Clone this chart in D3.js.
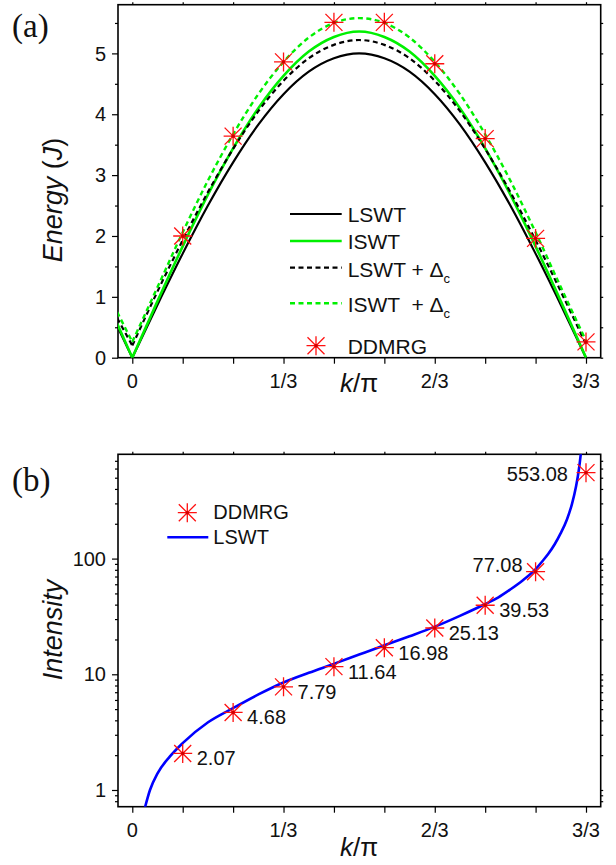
<!DOCTYPE html>
<html><head><meta charset="utf-8">
<script src="https://cdn.jsdelivr.net/npm/d3@7"></script>
<style>
html,body{margin:0;padding:0;background:#fff;}
svg{display:block;font-family:"Liberation Sans",Arial,sans-serif;}
</style></head>
<body>
<svg id="c" width="616" height="865"></svg>
<script>
// ---------- data ----------
const kEnergy = [-0.0333, 0, 0.0556, 0.1111, 0.1667, 0.2222, 0.2778, 0.3333, 0.3889, 0.4444, 0.5,
                 0.5556, 0.6111, 0.6667, 0.7222, 0.7778, 0.8333, 0.8889, 0.9444, 1.0];
const lswtE  = [0.52, 0, 0.87, 1.71, 2.50, 3.21, 3.83, 4.33, 4.70, 4.92, 5.00, 4.92, 4.70, 4.33, 3.83, 3.21, 2.50, 1.71, 0.87, 0];
const iswtE  = [0.56, 0, 0.93, 1.83, 2.68, 3.44, 4.10, 4.63, 5.03, 5.27, 5.36, 5.27, 5.03, 4.63, 4.10, 3.44, 2.68, 1.83, 0.93, 0];
const lswtDE = [0.65, 0.20, 1.09, 1.93, 2.72, 3.43, 4.05, 4.55, 4.92, 5.14, 5.22, 5.14, 4.92, 4.55, 4.05, 3.43, 2.72, 1.93, 1.09, 0.22];
const iswtDE = [0.75, 0.26, 1.16, 2.06, 2.91, 3.67, 4.33, 4.86, 5.26, 5.50, 5.58, 5.50, 5.26, 4.86, 4.33, 3.67, 2.91, 2.06, 1.16, 0.28];

const kDDMRG = [1/9, 2/9, 3/9, 4/9, 5/9, 6/9, 7/9, 8/9, 9/9];
const ddmrgE = [2.00, 3.64, 4.86, 5.51, 5.51, 4.83, 3.60, 1.96, 0.26];
const ddmrgI = [2.07, 4.68, 7.79, 11.64, 16.98, 25.13, 39.53, 77.08, 553.08];

const kInt   = [0.026, 0.039, 0.056, 0.083, 0.111, 0.167, 0.222, 0.278, 0.333, 0.389, 0.444, 0.5,
                0.556, 0.611, 0.667, 0.722, 0.778, 0.806, 0.833, 0.861, 0.889, 0.903, 0.917, 0.931,
                0.944, 0.958, 0.969, 0.978, 0.984, 0.989, 0.993];
const lswtI  = [0.66, 1.0, 1.4, 1.95, 2.54, 3.85, 5.1, 6.7, 8.5, 10.3, 12.3, 14.8,
                17.8, 21.3, 25.8, 32, 40.5, 46, 54, 65, 81, 94, 110, 133,
                165, 218, 296, 420, 577, 840, 1300];

const xTickVals = [0, 1/9, 2/9, 3/9, 4/9, 5/9, 6/9, 7/9, 8/9, 1];
const xTickLabels = {0: "0", 3: "1/3", 6: "2/3", 9: "3/3"};
const eTicks = [0, 1, 2, 3, 4, 5];
const iTicks = [1, 10, 100];

// ---------- layout ----------
const svg = d3.select("#c");
const L = 118, R = 600.7;
const A = {top: 4.7, bottom: 357.7};
const B = {top: 454.3, bottom: 806.7};

const x = d3.scaleLinear().domain([-0.0315, 1.0324]).range([L, R]);
const yA = d3.scaleLinear().domain([0, 5.8]).range([A.bottom, A.top]);
const yB = d3.scaleLog().domain([0.717, 797]).range([B.bottom, B.top]);

const defs = svg.append("defs");
defs.append("clipPath").attr("id", "clipA").append("rect")
  .attr("x", L).attr("y", A.top).attr("width", R - L).attr("height", A.bottom - A.top);
defs.append("clipPath").attr("id", "clipB").append("rect")
  .attr("x", L).attr("y", B.top).attr("width", R - L).attr("height", B.bottom - B.top);

const starPath = "M-9.5,0H9.5M0,-9.5V9.5M-8.5,-8.5L8.5,8.5M-8.5,8.5L8.5,-8.5";
function star(g, cx, cy) {
  g.append("path").attr("d", starPath).attr("transform", `translate(${cx},${cy})`)
    .attr("stroke", "#ff1010").attr("stroke-width", 1.3).attr("fill", "none");
  g.append("circle").attr("cx", cx).attr("cy", cy).attr("r", 1.7).attr("fill", "#d00000");
}

function drawFrame(P, y, yMajor, yMinor) {
  const g = svg.append("g");
  const xb = d3.axisBottom(x).tickValues(xTickVals).tickSize(6).tickFormat("");
  g.append("g").attr("transform", `translate(0,${P.bottom})`).call(xb);
  const xt = d3.axisTop(x).tickValues(xTickVals).tickSize(2.5).tickFormat("");
  g.append("g").attr("transform", `translate(0,${P.top})`).call(xt);
  const yl = d3.axisLeft(y).tickValues(yMajor).tickSize(6).tickFormat("");
  g.append("g").attr("transform", `translate(${L},0)`).call(yl);
  const ylm = d3.axisLeft(y).tickValues(yMinor).tickSize(3).tickFormat("");
  g.append("g").attr("transform", `translate(${L},0)`).call(ylm);
  const yr = d3.axisRight(y).tickValues(yMajor.concat(yMinor)).tickSize(2.5).tickFormat("");
  g.append("g").attr("transform", `translate(${R},0)`).call(yr);
  g.selectAll(".domain").remove();
  g.selectAll(".tick line").attr("stroke", "#000").attr("stroke-width", 1.2);
  g.append("rect").attr("x", L).attr("y", P.top).attr("width", R - L).attr("height", P.bottom - P.top)
    .attr("fill", "none").attr("stroke", "#000").attr("stroke-width", 1.6);
  xTickVals.forEach((v, i) => {
    if (xTickLabels[i] !== undefined) {
      svg.append("text").attr("x", x(v)).attr("y", P.bottom + 30).attr("text-anchor", "middle")
        .attr("font-size", 20).attr("fill", "#111").text(xTickLabels[i]);
    }
  });
  yMajor.forEach(v => {
    svg.append("text").attr("x", L - 12).attr("y", y(v)).attr("dy", "0.36em").attr("text-anchor", "end")
      .attr("font-size", 20).attr("fill", "#111").text(String(v));
  });
}

function kLabel(yb) {
  const t = svg.append("text").attr("x", x(0.5)).attr("y", yb).attr("text-anchor", "middle")
    .attr("font-size", 26).attr("fill", "#111");
  t.append("tspan").attr("font-style", "italic").text("k");
  t.append("tspan").text("/\u03C0");
}

// ---------- panel (a) ----------
drawFrame(A, yA, eTicks, [0.5, 1.5, 2.5, 3.5, 4.5, 5.5]);

const lineA = d3.line().x(d => x(d[0])).y(d => yA(d[1])).curve(d3.curveMonotoneX);
function energyPath(vals) {
  const pts = kEnergy.map((k, i) => [k, vals[i]]);
  const left = pts.filter(p => p[0] <= 0);
  const right = pts.filter(p => p[0] >= 0);
  return d3.line().x(d => x(d[0])).y(d => yA(d[1]))(left) + lineA(right);
}
const gA = svg.append("g").attr("clip-path", "url(#clipA)");
const seriesA = [
  {v: lswtE, c: "#000", dash: null, w: 2.2},
  {v: iswtE, c: "#00f000", dash: null, w: 2.6},
  {v: lswtDE, c: "#000", dash: "5,3.5", w: 2.2},
  {v: iswtDE, c: "#00f000", dash: "5,3.5", w: 2.4}
];
seriesA.forEach(s => {
  gA.append("path").attr("d", energyPath(s.v)).attr("fill", "none").attr("stroke", s.c)
    .attr("stroke-width", s.w).attr("stroke-dasharray", s.dash);
});
const gAs = svg.append("g");
kDDMRG.forEach((k, i) => star(gAs, x(k), yA(ddmrgE[i])));

// legend (a)
const legA = svg.append("g").attr("font-size", 21).attr("fill", "#111");
const legRows = [
  {y: 214, ty: 221.7, c: "#000", dash: null, w: 2.2, label: "LSWT", sub: false},
  {y: 241, ty: 249, c: "#00f000", dash: null, w: 2.6, label: "ISWT", sub: false},
  {y: 267.7, ty: 276.7, c: "#000", dash: "5,3.5", w: 2.2, label: "LSWT + \u0394", sub: true},
  {y: 303.3, ty: 311.7, c: "#00f000", dash: "5,3.5", w: 2.4, label: "ISWT \u00A0+ \u0394", sub: true}
];
legRows.forEach(r => {
  legA.append("line").attr("x1", 290).attr("x2", 341.7).attr("y1", r.y).attr("y2", r.y)
    .attr("stroke", r.c).attr("stroke-width", r.w).attr("stroke-dasharray", r.dash);
  const t = legA.append("text").attr("x", 347.7).attr("y", r.ty).text(r.label);
  if (r.sub) t.append("tspan").attr("font-size", 13).attr("dy", 6).text("c");
});
star(legA, 316, 345.7);
legA.append("text").attr("x", 347.7).attr("y", 354.3).text("DDMRG");

// axis titles (a)
const tE = svg.append("text").attr("transform", "translate(62,200) rotate(-90)")
  .attr("text-anchor", "middle").attr("font-size", 27).attr("fill", "#111");
tE.append("tspan").attr("font-style", "italic").text("Energy");
tE.append("tspan").text(" (");
tE.append("tspan").attr("font-style", "italic").text("J");
tE.append("tspan").text(")");
kLabel(392);
svg.append("text").attr("x", 12).attr("y", 37).attr("font-family", '"Liberation Serif","Times New Roman",serif')
  .attr("font-size", 33).attr("fill", "#111").text("(a)");

// ---------- panel (b) ----------
const minorLog = [0.8, 0.9, 2, 3, 4, 5, 6, 7, 8, 9, 20, 30, 40, 50, 60, 70, 80, 90, 200, 300, 400, 500, 600, 700];
drawFrame(B, yB, iTicks, minorLog);

const gB = svg.append("g").attr("clip-path", "url(#clipB)");
const lineB = d3.line().x(d => x(d[0])).y(d => yB(d[1])).curve(d3.curveMonotoneX);
gB.append("path").attr("d", lineB(kInt.map((k, i) => [k, lswtI[i]])))
  .attr("fill", "none").attr("stroke", "#0000ff").attr("stroke-width", 2.6);

const gBs = svg.append("g");
kDDMRG.forEach((k, i) => star(gBs, x(k), yB(ddmrgI[i])));
const gBl = svg.append("g").attr("font-size", 20).attr("fill", "#111");
kDDMRG.forEach((k, i) => {
  const cx = x(k), cy = yB(ddmrgI[i]);
  const t = gBl.append("text").text(ddmrgI[i].toFixed(2));
  if (i === 7) {
    t.attr("x", cx - 13).attr("y", cy).attr("text-anchor", "end");
  } else if (i === 8) {
    t.attr("x", cx - 18).attr("y", cy + 8.5).attr("text-anchor", "end");
  } else {
    t.attr("x", cx + 14).attr("y", cy + 12);
  }
});

// legend (b)
const legB = svg.append("g").attr("font-size", 20).attr("fill", "#111");
star(legB, 187.3, 512.7);
legB.append("text").attr("x", 213.3).attr("y", 518.8).text("DDMRG");
legB.append("line").attr("x1", 167.3).attr("x2", 208.3).attr("y1", 537.3).attr("y2", 537.3)
  .attr("stroke", "#0000ff").attr("stroke-width", 2.6);
legB.append("text").attr("x", 213.3).attr("y", 544).text("LSWT");

// axis titles (b)
svg.append("text").attr("transform", "translate(62,630) rotate(-90)")
  .attr("text-anchor", "middle").attr("font-size", 27).attr("font-style", "italic").attr("fill", "#111")
  .text("Intensity");
kLabel(856);
svg.append("text").attr("x", 12).attr("y", 491).attr("font-family", '"Liberation Serif","Times New Roman",serif')
  .attr("font-size", 33).attr("fill", "#111").text("(b)");
</script>
</body></html>
